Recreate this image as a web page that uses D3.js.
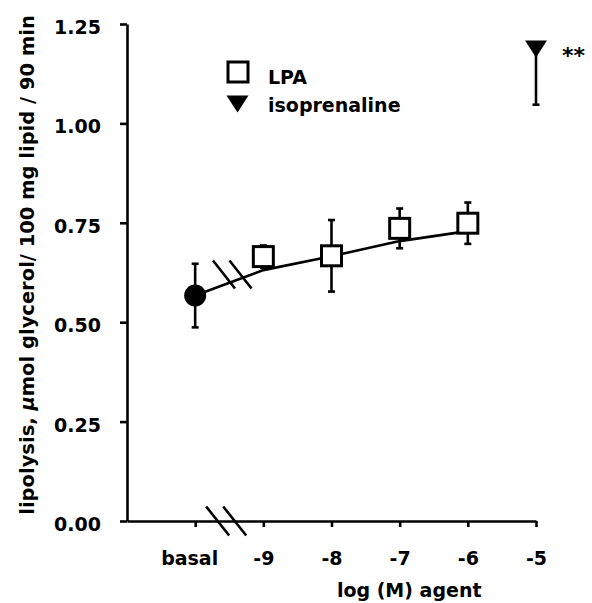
<!DOCTYPE html>
<html><head><meta charset="utf-8">
<script src="https://cdn.jsdelivr.net/npm/d3@7"></script>
<style>
body{margin:0;background:#fff;}
text{font-family:"DejaVu Sans",sans-serif;font-weight:bold;fill:#000;}
</style></head>
<body><svg id="c" width="592" height="603"></svg>
<script>
// ---- data ----
const xTickValues = [-10, -9, -8, -7, -6, -5];
const xTickLabels = ["basal", "-9", "-8", "-7", "-6", "-5"];
const yTickValues = [0, 0.25, 0.5, 0.75, 1.0, 1.25];

const basalX = [-10];
const basalMean = [0.567];
const basalSem = [0.08];

const lpaX = [-9, -8, -7, -6];
const lpaMean = [0.665, 0.667, 0.736, 0.749];
const lpaSem = [0.028, 0.09, 0.05, 0.052];

const isoX = [-5];
const isoMean = [1.187];
const isoSem = [0.14];

const fitX = [-10, -9, -8, -7, -6];
const fitY = [0.567, 0.631, 0.666, 0.704, 0.729];

const axisBreakX = [-9.67, -9.42];
const lineBreakX = [-9.577, -9.335];
const lineBreakY = 0.62;

// ---- chart ----
const svg = d3.select("#c");
const x = d3.scaleLinear().domain([-11, -5]).range([127, 536]);
const y = d3.scaleLinear().domain([0, 1.25]).range([521, 24]);

const sw = 2.6;
const fs = 19;

// axes
const gx = svg.append("g").attr("transform", `translate(0,${y(0)})`)
  .call(d3.axisBottom(x).tickValues(xTickValues)
    .tickFormat((d, i) => xTickLabels[i]).tickSize(6).tickSizeOuter(0).tickPadding(25));
const gy = svg.append("g").attr("transform", `translate(${x(-11)},0)`)
  .call(d3.axisLeft(y).tickValues(yTickValues).tickFormat(d3.format(".2f"))
    .tickSize(7).tickSizeOuter(0).tickPadding(19));
[gx, gy].forEach(g => {
  g.selectAll("path,line").attr("stroke", "#000").attr("stroke-width", sw);
  g.selectAll("text").attr("font-size", fs).attr("font-family", "DejaVu Sans").attr("font-weight", "bold").attr("fill", "#000");
});
gy.selectAll("text").attr("dy", "0.5em");
gx.selectAll("text").filter((d, i) => i === 0).attr("dx", -6);

// axis break marks
axisBreakX.forEach(v => {
  svg.append("line").attr("x1", x(v) - 11.5).attr("y1", y(0) - 14.5)
    .attr("x2", x(v) + 11.5).attr("y2", y(0) + 14.5)
    .attr("stroke", "#000").attr("stroke-width", sw);
});

// fit line
svg.append("path").datum(fitX.map((d, i) => [d, fitY[i]]))
  .attr("d", d3.line().x(d => x(d[0])).y(d => y(d[1])))
  .attr("fill", "none").attr("stroke", "#000").attr("stroke-width", sw);

// line break marks
lineBreakX.forEach(v => {
  svg.append("line").attr("x1", x(v) - 11).attr("y1", y(lineBreakY) - 14)
    .attr("x2", x(v) + 11).attr("y2", y(lineBreakY) + 14)
    .attr("stroke", "#000").attr("stroke-width", sw);
});

// error bars
function errBars(xs, ms, ss, lowerOnly) {
  xs.forEach((xv, i) => {
    const top = lowerOnly ? y(ms[i]) : y(ms[i] + ss[i]), bot = y(ms[i] - ss[i]), cx = x(xv);
    svg.append("line").attr("x1", cx).attr("x2", cx).attr("y1", top).attr("y2", bot)
      .attr("stroke", "#000").attr("stroke-width", sw);
    (lowerOnly ? [bot] : [top, bot]).forEach(yy => svg.append("line").attr("x1", cx - 3.5).attr("x2", cx + 3.5)
      .attr("y1", yy).attr("y2", yy).attr("stroke", "#000").attr("stroke-width", sw));
  });
}
errBars(basalX, basalMean, basalSem, false);
errBars(lpaX, lpaMean, lpaSem, false);
errBars(isoX, isoMean, isoSem, true);

// markers
basalX.forEach((xv, i) => svg.append("circle").attr("cx", x(xv)).attr("cy", y(basalMean[i]))
  .attr("r", 11).attr("fill", "#000"));
lpaX.forEach((xv, i) => svg.append("rect").attr("x", x(xv) - 10).attr("y", y(lpaMean[i]) - 10)
  .attr("width", 20).attr("height", 20).attr("fill", "#fff").attr("stroke", "#000").attr("stroke-width", 3));
const tri = (cx, cy) => `M${cx - 11},${cy - 8.5}L${cx + 11},${cy - 8.5}L${cx},${cy + 8.5}Z`;
isoX.forEach((xv, i) => svg.append("path").attr("d", tri(x(xv), y(isoMean[i]))).attr("fill", "#000"));

svg.append("text").attr("x", x(-5) + 26).attr("y", 63).attr("font-size", 22).text("**");

// legend
svg.append("rect").attr("x", 228).attr("y", 62).attr("width", 20).attr("height", 20)
  .attr("fill", "#fff").attr("stroke", "#000").attr("stroke-width", 3);
svg.append("text").attr("x", 268).attr("y", 84).attr("font-size", fs).text("LPA");
svg.append("path").attr("d", tri(237.5, 104)).attr("fill", "#000");
svg.append("text").attr("x", 268).attr("y", 112).attr("font-size", fs).text("isoprenaline");

// axis titles
svg.append("text").attr("x", x(-6.86)).attr("y", 597).attr("text-anchor", "middle")
  .attr("font-size", fs).text("log (M) agent");
const yt = svg.append("text").attr("transform", "translate(34,265) rotate(-90)")
  .attr("text-anchor", "middle").attr("font-size", 19.5);
yt.append("tspan").text("lipolysis, ");
yt.append("tspan").attr("font-style", "italic").text("μ");
yt.append("tspan").text("mol glycerol/ 100 mg lipid / 90 min");
</script></body></html>
